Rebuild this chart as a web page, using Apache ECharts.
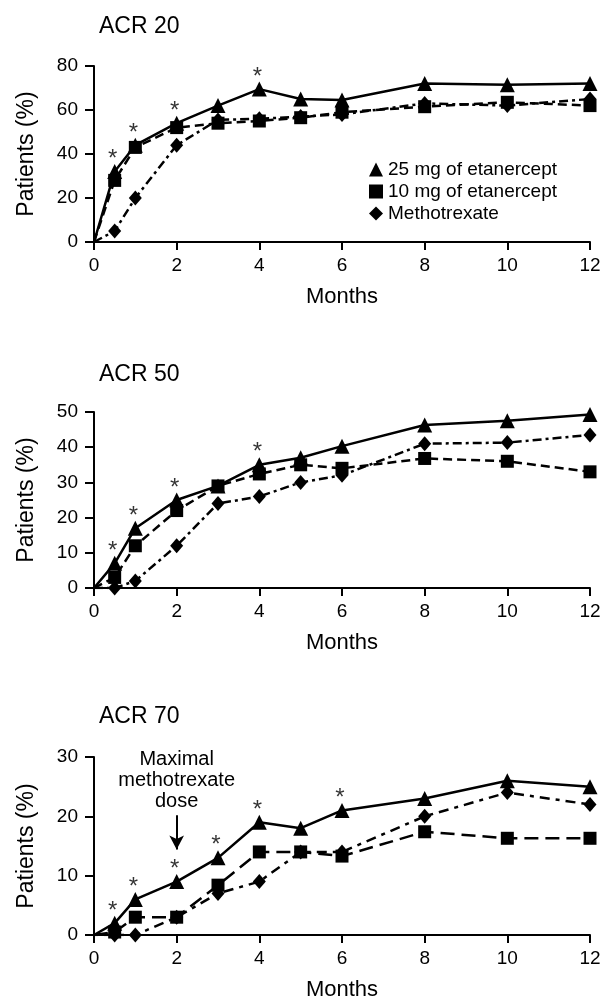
<!DOCTYPE html>
<html>
<head>
<meta charset="utf-8">
<script src="https://cdn.jsdelivr.net/npm/echarts@6/dist/echarts.min.js"></script>
<style>
	html, body { margin: 0; padding: 0; background: #fff; }
	#main { width: 602px; height: 1005px; }
</style>
</head>
<body>
<div id="main"></div>
<script>
var months = [0, 0.5, 1, 2, 3, 4, 5, 6, 8, 10, 12];

// ACR 20
var acr20_25mg = [0, 32, 44, 54, 62, 69.5, 65, 64.5, 72, 71.5, 72];
var acr20_10mg = [0, 28, 43, 52, 54, 55, 56.5, 59, 61.5, 63.5, 62];
var acr20_mtx = [0, 5, 20, 44, 55.5, 56, 57, 58, 63, 62, 65];
var acr20_sig = [0.5, 1, 2, 4]; // months with *

// ACR 50
var acr50_25mg = [0, 7, 17, 25, 29, 35, 37, 40.3, 46.3, 47.5, 49.3];
var acr50_10mg = [0, 3, 12, 22, 29, 32.4, 35, 34, 36.8, 36, 33];
var acr50_mtx = [0, 0, 2, 12, 24, 26, 30, 32, 41, 41.3, 43.5];
var acr50_sig = [0.5, 1, 2, 4];

// ACR 70
var acr70_25mg = [0, 2, 6, 9, 13, 19, 18, 21, 23, 26, 25];
var acr70_10mg = [0, 0.5, 3, 3, 8.4, 14, 14, 13.3, 17.4, 16.3, 16.3];
var acr70_mtx = [0, 0, 0, 3, 7, 9, 14, 14, 20, 24, 22];
var acr70_sig = [0.5, 1, 2, 3, 4, 6];

var yMax = [80, 50, 30];
var yStep = [20, 10, 10];
var titles = ['ACR 20', 'ACR 50', 'ACR 70'];
var names = ['25 mg of etanercept', '10 mg of etanercept', 'Methotrexate'];

var FONT = "'Liberation Sans', Arial, sans-serif";

function pairs(arr) { //把月份和数值配成[x, y]，第0个月不画标记
	var out = [];
	for (var i = 0; i < months.length; i++) {
		if (months[i] == 0) {
			out.push({ value: [months[i], arr[i]], symbol: 'none' });
		} else {
			out.push([months[i], arr[i]]);
		}
	}
	return out;
}

function makeLine(name, arr, symbol, size, dash, idx) {
	return {
		name: name,
		type: 'line',
		xAxisIndex: idx,
		yAxisIndex: idx,
		data: pairs(arr),
		symbol: symbol,
		symbolSize: size,
		showAllSymbol: true,
		itemStyle: { color: '#000' },
		lineStyle: { color: '#000', width: 2.5, type: dash },
		z: 3,
		animation: false
	};
}

function makeStars(sig, tri, idx) { //显著性星号，放在三角形上方
	var d = [];
	for (var i = 0; i < sig.length; i++) {
		var k = months.indexOf(sig[i]);
		d.push([sig[i], tri[k]]);
	}
	return {
		type: 'scatter',
		xAxisIndex: idx,
		yAxisIndex: idx,
		data: d,
		symbolSize: 2,
		itemStyle: { color: 'rgba(0,0,0,0)' },
		label: {
			show: true,
			formatter: '*',
			position: 'inside',
			offset: [-2, -12],
			color: '#000',
			fontSize: 24,
			fontFamily: FONT
		},
		silent: true,
		z: 4,
		animation: false
	};
}

var gridTop = [66, 412, 757];
var gridHeight = [176, 176, 178];

var grids = [], xAxes = [], yAxes = [], titleList = [];
for (var g = 0; g < 3; g++) {
	grids.push({
		left: 94,
		right: 12,
		top: gridTop[g],
		height: gridHeight[g],
		outerBoundsMode: 'none'
	});
	xAxes.push({
		type: 'value',
		gridIndex: g,
		min: 0,
		max: 12,
		interval: 2,
		name: 'Months',
		nameLocation: 'middle',
		nameGap: 44,
		nameTextStyle: { color: '#000', fontSize: 22, fontFamily: FONT },
		axisLine: { show: true, onZero: false, lineStyle: { color: '#000', width: 2 } },
		axisTick: { show: true, length: 8, lineStyle: { color: '#000', width: 2 } },
		axisLabel: { color: '#000', fontSize: 19, margin: 14, fontFamily: FONT },
		splitLine: { show: false }
	});
	yAxes.push({
		type: 'value',
		gridIndex: g,
		min: 0,
		max: yMax[g],
		interval: yStep[g],
		name: 'Patients (%)',
		nameLocation: 'middle',
		nameGap: 56,
		nameTextStyle: { color: '#000', fontSize: 23, fontFamily: FONT },
		axisLine: { show: true, lineStyle: { color: '#000', width: 2 } },
		axisTick: { show: true, length: 9, lineStyle: { color: '#000', width: 2 } },
		axisLabel: { color: '#000', fontSize: 19, margin: 16, fontFamily: FONT },
		splitLine: { show: false }
	});
}
titleList = [
	{ text: titles[0], left: 94, top: 10 },
	{ text: titles[1], left: 94, top: 358 },
	{ text: titles[2], left: 94, top: 700 }
];
for (var t = 0; t < titleList.length; t++) {
	titleList[t].textStyle = { color: '#000', fontSize: 23, fontWeight: 'normal', fontFamily: FONT };
}

var dashSquare = [9, 5];
var dashDiamond = [9, 4, 3, 4];

var series = [
	makeLine(names[0], acr20_25mg, 'triangle', 15, 'solid', 0),
	makeLine(names[1], acr20_10mg, 'rect', 13, dashSquare, 0),
	makeLine(names[2], acr20_mtx, 'diamond', [13, 15], dashDiamond, 0),
	makeStars(acr20_sig, acr20_25mg, 0),

	makeLine(names[0], acr50_25mg, 'triangle', 15, 'solid', 1),
	makeLine(names[1], acr50_10mg, 'rect', 13, dashSquare, 1),
	makeLine(names[2], acr50_mtx, 'diamond', [13, 15], dashDiamond, 1),
	makeStars(acr50_sig, acr50_25mg, 1),

	makeLine(names[0], acr70_25mg, 'triangle', 15, 'solid', 2),
	makeLine(names[1], acr70_10mg, 'rect', 13, [14, 7], 2),
	makeLine(names[2], acr70_mtx, 'diamond', [13, 15], [4, 6, 10, 6], 2),
	makeStars(acr70_sig, acr70_25mg, 2)
];

// 最大甲氨蝶呤剂量的箭头和文字
series[8].markLine = {
	silent: true,
	symbol: ['none', 'arrow'],
	symbolSize: [11, 14],
	label: { show: false },
	lineStyle: { color: '#000', width: 2, type: 'solid' },
	animation: false,
	data: [[{ coord: [2, 20.2] }, { coord: [2, 14.4] }]]
};
series[8].markPoint = {
	silent: true,
	symbol: 'rect',
	symbolSize: 2,
	itemStyle: { color: 'rgba(0,0,0,0)' },
	label: {
		show: true,
		position: 'inside',
		formatter: 'Maximal\nmethotrexate\ndose',
		color: '#000',
		fontSize: 20,
		lineHeight: 21,
		align: 'center',
		fontFamily: FONT
	},
	animation: false,
	data: [{ coord: [2, 26] }]
};

var myChart = echarts.init(document.getElementById('main'), null, { renderer: 'canvas' });

var option = {
	backgroundColor: '#fff',
	animation: false,
	title: titleList,
	legend: {
		orient: 'vertical',
		left: 364,
		top: 155,
		itemWidth: 14,
		itemHeight: 14,
		itemGap: 3,
		textStyle: { color: '#000', fontSize: 19, fontFamily: FONT },
		data: [
			{ name: names[0], icon: 'triangle', itemStyle: { color: '#000' } },
			{ name: names[1], icon: 'rect', itemStyle: { color: '#000' } },
			{ name: names[2], icon: 'diamond', itemStyle: { color: '#000' } }
		]
	},
	grid: grids,
	xAxis: xAxes,
	yAxis: yAxes,
	series: series
};

myChart.setOption(option);
</script>
</body>
</html>
